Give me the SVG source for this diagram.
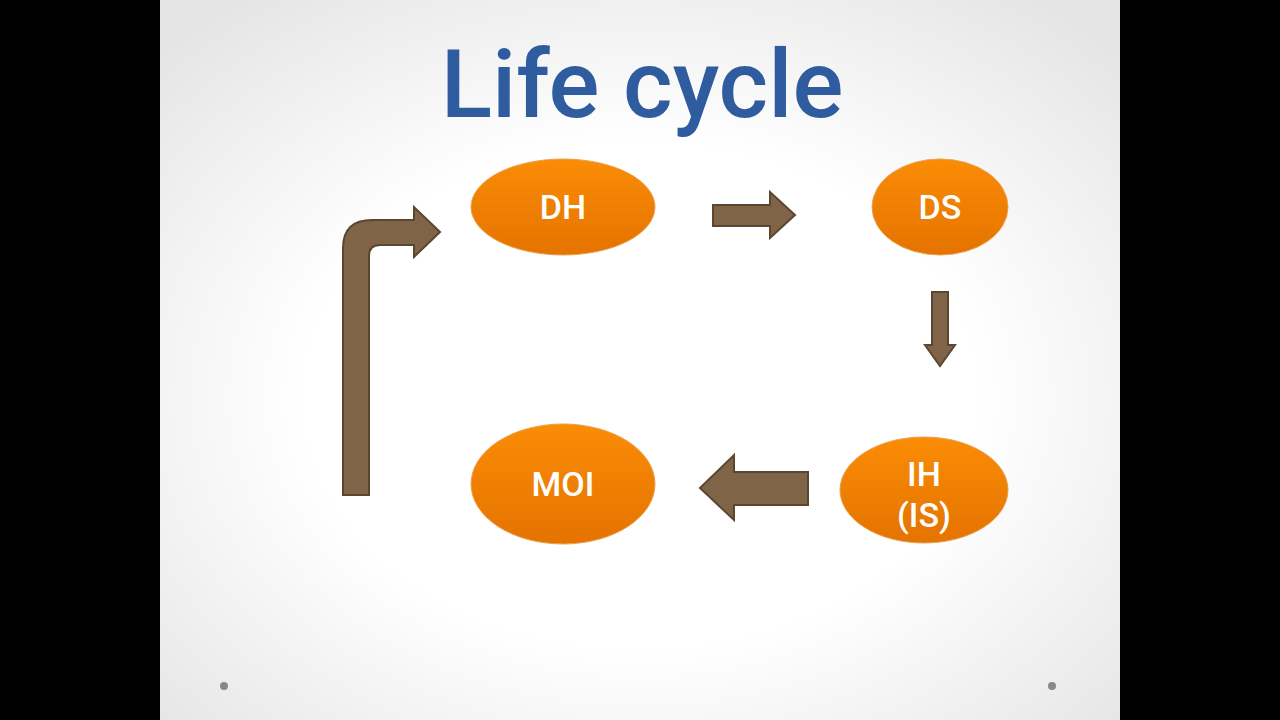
<svg xmlns="http://www.w3.org/2000/svg" width="1280" height="720" viewBox="0 0 1280 720">
<defs>
<radialGradient id="bg" cx="0.5" cy="0.55" r="0.7">
<stop offset="0.5" stop-color="#ffffff"/><stop offset="1" stop-color="#e4e4e4"/>
</radialGradient>
<linearGradient id="og" x1="0" y1="0" x2="0" y2="1">
<stop offset="0" stop-color="#fb8c05"/><stop offset="1" stop-color="#e47300"/>
</linearGradient>
<style>
.n{fill:url(#og);stroke:#e9a050;stroke-width:1}
.t{font-family:Roboto,"Liberation Sans",sans-serif;font-weight:500;fill:#fff;text-anchor:middle;font-size:34px}
.a{fill:#7f6448;stroke:#5c4630;stroke-width:2}
</style>
</defs>
<rect width="1280" height="720" fill="#000"/>
<rect x="160" y="0" width="960" height="720" fill="url(#bg)"/>
<text x="642" y="117" text-anchor="middle" font-family="Roboto,'Liberation Sans',sans-serif" font-weight="500" font-size="95" fill="#2f5c9e">Life cycle</text>
<g id="DH"><ellipse class="n" cx="563" cy="207" rx="92" ry="48"/><text class="t" x="563" y="219">DH</text></g>
<g id="DS"><ellipse class="n" cx="940" cy="207" rx="68" ry="48"/><text class="t" x="940" y="219">DS</text></g>
<g id="MOI"><ellipse class="n" cx="563" cy="484" rx="92" ry="60"/><text class="t" x="563" y="496">MOI</text></g>
<g id="IH"><ellipse class="n" cx="924" cy="490" rx="84" ry="53"/><text class="t" x="924" y="486">IH</text><text class="t" x="924" y="527" font-size="28" font-weight="400">(IS)</text></g>
<g id="connectors">
<path class="a" d="M713,205 H770 V192 L795,215 L770,238 V226 H713 Z"/>
<path class="a" d="M932,292 H948 V345 H955 L940,366 L925,345 H932 Z"/>
<path class="a" d="M808,472 V505 H734 V520 L700,488 L734,455 V472 Z"/>
<path class="a" d="M343,495 V248 Q343,220 372,220 H414 V207 L440,232 L414,257 V245 H380 Q369,245 369,256 V495 Z"/>
</g>
<circle cx="224" cy="686" r="4" fill="#888"/>
<circle cx="1052" cy="686" r="4" fill="#888"/>
</svg>
